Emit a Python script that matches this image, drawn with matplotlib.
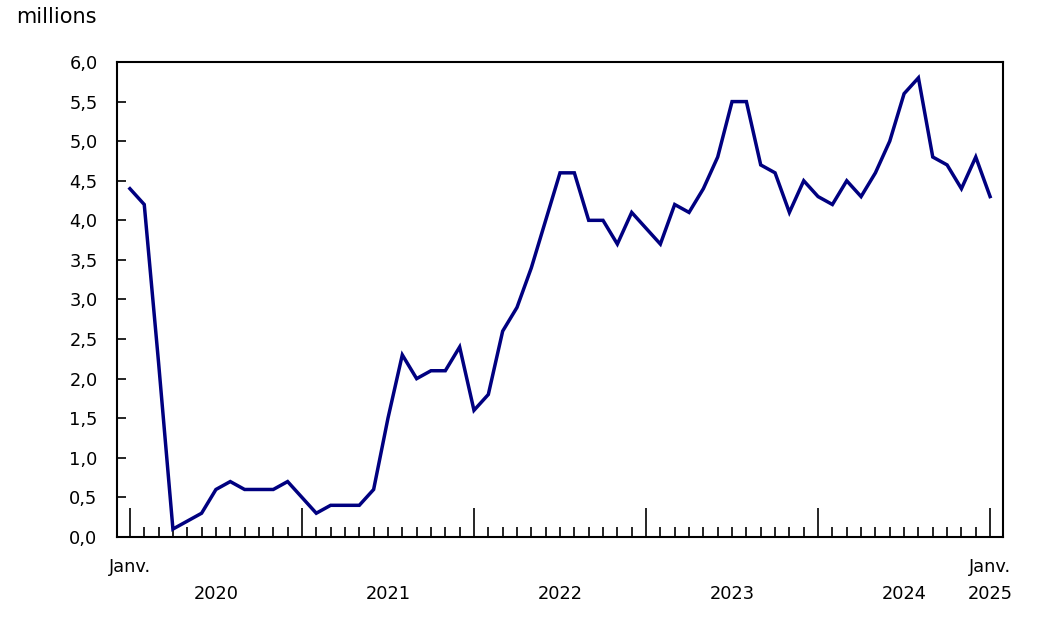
import matplotlib.pyplot as plt
import matplotlib.transforms as mtransforms
import numpy as np

# monthly values, Jan 2020 .. Jan 2025 (millions)
values = [4.4, 4.2, 2.2, 0.1, 0.2, 0.3, 0.6, 0.7, 0.6, 0.6, 0.6, 0.7,
          0.5, 0.3, 0.4, 0.4, 0.4, 0.6, 1.5, 2.3, 2.0, 2.1, 2.1, 2.4,
          1.6, 1.8, 2.6, 2.9, 3.4, 4.0, 4.6, 4.6, 4.0, 4.0, 3.7, 4.1,
          3.9, 3.7, 4.2, 4.1, 4.4, 4.8, 5.5, 5.5, 4.7, 4.6, 4.1, 4.5,
          4.3, 4.2, 4.5, 4.3, 4.6, 5.0, 5.6, 5.8, 4.8, 4.7, 4.4, 4.8,
          4.3]
years = ['2020', '2021', '2022', '2023', '2024']
last_year = '2025'
month_label = 'Janv.'
y_ticks = np.arange(0, 6.01, 0.5)

months = np.arange(len(values))

fig = plt.figure(figsize=(10.41, 6.22), dpi=100)
ax = fig.add_axes([0.1124, 0.1367, 0.8511, 0.7636])

ax.plot(months, values, color='#000080', linewidth=2.5, solid_joinstyle='miter')

ax.set_xlim(-0.9, 60.9)
ax.set_ylim(0, 6)

ax.set_yticks(y_ticks)
ax.set_yticklabels([('%.1f' % v).replace('.', ',') for v in y_ticks])
ax.tick_params(axis='y', direction='in', length=6.5, width=1.2, pad=14,
               labelsize=12.8, colors='black')

ax.set_xticks(np.arange(0, 61, 12))
ax.set_xticks(months, minor=True)
ax.tick_params(axis='x', which='major', direction='in', length=21, width=1.2,
               labelbottom=False)
ax.tick_params(axis='x', which='minor', direction='in', length=7, width=1.2,
               labelbottom=False)

for s in ax.spines.values():
    s.set_linewidth(1.5)

trans = mtransforms.blended_transform_factory(ax.transData, fig.transFigure)
ax.text(0, 1 - 567 / 622, month_label, transform=trans, ha='center', va='center', fontsize=12.8)
ax.text(60, 1 - 567 / 622, month_label, transform=trans, ha='center', va='center', fontsize=12.8)
for i, yr in enumerate(years):
    ax.text(6 + 12 * i, 1 - 594 / 622, yr, transform=trans, ha='center', va='center', fontsize=12.8)
ax.text(60, 1 - 594 / 622, last_year, transform=trans, ha='center', va='center', fontsize=12.8)

fig.text(16 / 1041, 1 - 17 / 622, 'millions', ha='left', va='center', fontsize=15)

fig.savefig('out.png', dpi=100)
